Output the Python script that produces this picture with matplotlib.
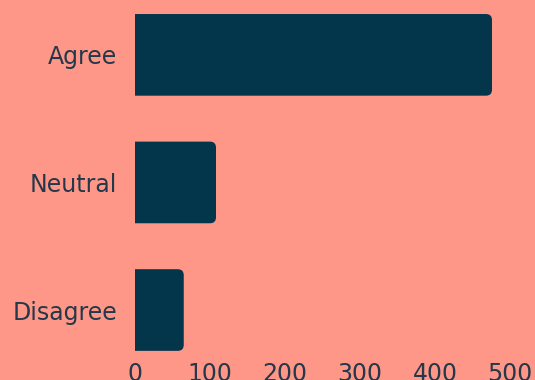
import matplotlib.pyplot as plt
from matplotlib.path import Path
from matplotlib.patches import PathPatch

categories = ['Agree', 'Neutral', 'Disagree']
counts = [476, 108, 65]
xticks = [0, 100, 200, 300, 400, 500]

bg = '#FE9788'
bar_col = '#03354B'
txt_col = '#24384A'

plt.rcParams['font.family'] = ['DejaVu Sans']

W, H = 535, 380
fig = plt.figure(figsize=(W / 100, H / 100), dpi=100, facecolor=bg)
# axes in pixel units: left 135, right 510, top 0, bottom 358
ax = fig.add_axes([135 / W, 1 - 358 / H, 375 / W, 358 / H], facecolor=bg)

pos = list(range(len(categories)))
bars = ax.barh(pos, counts, height=0.64, color=bar_col)
ax.set_xlim(0, 500)
ax.set_ylim(2.376, -0.43)


def right_rounded(x0, y0, w, h, rx, ry):
    # rectangle with the two right corners rounded
    x1, y1 = x0 + w, y0 + h
    verts = [(x0, y0), (x1 - rx, y0), (x1, y0), (x1, y0 + ry),
             (x1, y1 - ry), (x1, y1), (x1 - rx, y1), (x0, y1), (x0, y0)]
    codes = [Path.MOVETO, Path.LINETO, Path.CURVE3, Path.CURVE3,
             Path.LINETO, Path.CURVE3, Path.CURVE3, Path.LINETO, Path.CLOSEPOLY]
    return Path(verts, codes)


# swap plain bars for ones rounded on the right side
for b in bars:
    b.set_visible(False)
    p = right_rounded(b.get_x() - 3, b.get_y(), b.get_width() + 3,
                      b.get_height(), 8.0, 0.047)
    ax.add_patch(PathPatch(p, fc=bar_col, ec='none'))

ax.set_yticks(pos)
ax.set_yticklabels(categories)
ax.set_xticks(xticks)
ax.tick_params(axis='both', length=0, colors=txt_col, labelsize=17)
ax.tick_params(axis='y', pad=13)
ax.tick_params(axis='x', pad=3)
for s in ax.spines.values():
    s.set_visible(False)

fig.savefig('out.png', dpi=100, facecolor=bg)
